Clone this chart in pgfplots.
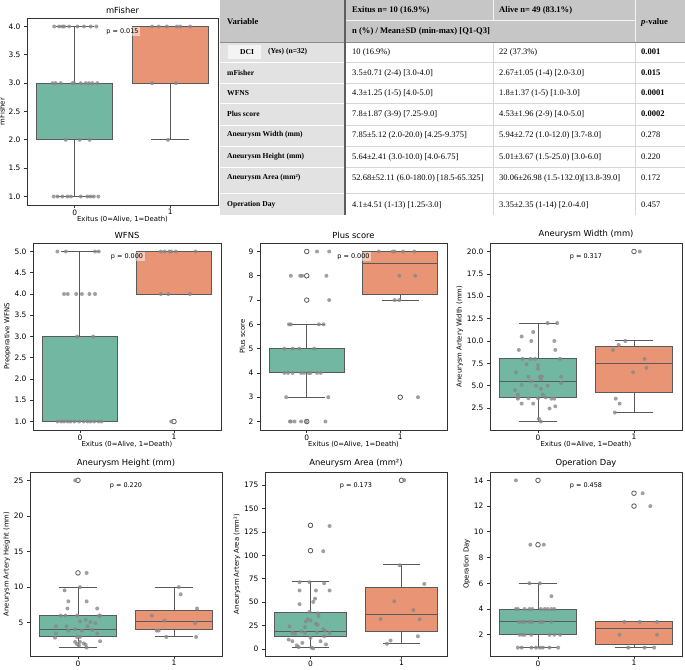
\documentclass[border=0pt]{standalone}
\usepackage{pgfplots}
\pgfplotsset{compat=1.18}
\usepgfplotslibrary{statistics}
\usepackage{fontspec}
\setmainfont{DejaVu Sans}
\newfontfamily\tabfont{Liberation Serif}
\definecolor{cgreen}{HTML}{71B7A1}
\definecolor{corange}{HTML}{E99575}
\definecolor{boxline}{HTML}{5A5A5A}
\definecolor{ptgray}{HTML}{888888}
\definecolor{hdr}{HTML}{C6C6C6}
\definecolor{colone}{HTML}{E2E2E2}
\definecolor{rowline}{HTML}{D6D6D6}
\definecolor{sepline}{HTML}{5E5E5E}
\pgfplotsset{
 bp/.style={scale only axis, anchor=north west, xmin=-0.5, xmax=1.5, xtick={0,1},
  tick pos=left, tick align=outside, major tick length=3bp,
  tick style={black!80, line width=0.7bp}, axis line style={black!80, line width=0.8bp},
  ticklabel style={font=\fontsize{7.5}{8}\selectfont},
  xticklabel style={yshift=2bp},
  label style={font=\fontsize{6.9}{8}\selectfont},
  xlabel style={yshift=6bp}, ylabel shift=-3bp,
  title style={font=\fontsize{8.4}{9}\selectfont, yshift=-5bp},
  /pgf/number format/assume math mode=true,
  boxplot/draw direction=y,
  boxplot/box extend=0.8, boxplot/whisker extend=0.4, clip=false},
 dec1/.style={yticklabel style={/pgf/number format/.cd, fixed, fixed zerofill, precision=1}},
 g0/.style={draw=boxline, fill=cgreen, line width=1bp},
 g1/.style={draw=boxline, fill=corange, line width=1bp},
 outl/.style={only marks, mark=o, mark size=2.3bp, mark options={draw=boxline, fill=none, line width=0.8bp}},
 strip/.style={only marks, mark=*, mark size=2bp, color=ptgray, mark options={draw=ptgray, fill=ptgray, draw opacity=0, fill opacity=0.8}},
}
\tikzset{pnote/.style={font=\fontsize{6.5}{7}\selectfont, fill=white, fill opacity=0.5, text opacity=1, inner sep=1.5bp, yshift=-5bp}}
\begin{document}
\begin{tikzpicture}
\path[use as bounding box] (0,0) rectangle (685bp,-670bp);
% ---------------- table ----------------
\begin{scope}[x=1bp,y=-1bp]
\fill[hdr] (220,0) rectangle (685,42);
\fill[colone] (220,42) rectangle (345,215);
\fill[white!60!colone] (228,45) rectangle (261,59);
\foreach \yy in {62,83,103,125,146,167,193}{
  \draw[white, line width=1bp] (220,\yy) -- (345,\yy);
  \draw[rowline, line width=0.7bp] (345,\yy) -- (685,\yy);
}
\draw[rowline, line width=0.7bp] (493,42) -- (493,215);
\draw[rowline, line width=0.7bp] (635,42) -- (635,215);
\draw[white!80!hdr, line width=0.8bp] (345,20.5) -- (635,20.5);
\draw[white!80!hdr, line width=0.8bp] (493,0) -- (493,20.5);
\draw[white!80!hdr, line width=0.8bp] (635,0) -- (635,42);
\draw[black!45, line width=0.8bp] (220,42) -- (685,42);
\draw[sepline, line width=1.4bp] (345,0) -- (345,215);
\begin{scope}[every node/.style={anchor=west, inner sep=0pt, font=\tabfont\fontsize{8.5}{10}\selectfont}]
\begin{scope}[every node/.append style={font=\tabfont\bfseries\fontsize{8.6}{10}\selectfont}]
\node at (227,22) {Variable};
\node at (352,10) {Exitus n= 10 (16.9\%)};
\node at (499,10) {Alive n= 49 (83.1\%)};
\node at (352,31) {n (\%) / Mean±SD (min-max) [Q1-Q3]};
\node at (641,22) {\textit{p}-value};
\node at (641,52) {0.001};
\node at (641,73) {0.015};
\node at (641,93) {0.0001};
\node at (641,114) {0.0002};
\end{scope}
\begin{scope}[every node/.append style={font=\tabfont\bfseries\fontsize{7.6}{9}\selectfont}]
\node at (240,52) {DCI};
\node at (268,52) {(Yes) (n=32)};
\node at (227,73) {mFisher};
\node at (227,93) {WFNS};
\node at (227,114) {Plus score};
\node at (227,135) {Aneurysm Width (mm)};
\node at (227,157) {Aneurysm Height (mm)};
\node at (227,178) {Aneurysm Area (mm²)};
\node at (227,205) {Operation Day};
\end{scope}
\node at (352,52) {10 (16.9\%)};
\node at (499,52) {22 (37.3\%)};
\node at (352,73) {3.5±0.71 (2-4) [3.0-4.0]};
\node at (499,73) {2.67±1.05 (1-4) [2.0-3.0]};
\node at (352,93) {4.3±1.25 (1-5) [4.0-5.0]};
\node at (499,93) {1.8±1.37 (1-5) [1.0-3.0]};
\node at (352,114) {7.8±1.87 (3-9) [7.25-9.0]};
\node at (499,114) {4.53±1.96 (2-9) [4.0-5.0]};
\node at (352,135) {7.85±5.12 (2.0-20.0) [4.25-9.375]};
\node at (499,135) {5.94±2.72 (1.0-12.0) [3.7-8.0]};
\node at (641,135) {0.278};
\node at (352,157) {5.64±2.41 (3.0-10.0) [4.0-6.75]};
\node at (499,157) {5.01±3.67 (1.5-25.0) [3.0-6.0]};
\node at (641,157) {0.220};
\node at (352,178) {52.68±52.11 (6.0-180.0) [18.5-65.325]};
\node at (499,178) {30.06±26.98 (1.5-132.0)[13.8-39.0]};
\node at (641,178) {0.172};
\node at (352,205) {4.1±4.51 (1-13) [1.25-3.0]};
\node at (499,205) {3.35±2.35 (1-14) [2.0-4.0]};
\node at (641,205) {0.457};
\end{scope}
\end{scope}
% ---------------- mFisher ----------------
\begin{axis}[bp, dec1, at={(27bp,-18bp)}, width=191bp, height=187bp,
  ymin=0.85, ymax=4.15, ytick={1,1.5,...,4}, title={mFisher}, ylabel={mFisher},
  xlabel={Exitus (0=Alive, 1=Death)}]
\addplot[g0, boxplot prepared={lower whisker=1, lower quartile=2, median=3, upper quartile=3, upper whisker=4, draw position=0}] coordinates {};
\addplot[g1, boxplot prepared={lower whisker=2, lower quartile=3, median=4, upper quartile=4, upper whisker=4, draw position=1}] coordinates {};
\addplot[strip] coordinates {
(-0.215,4)(-0.163,4)(-0.128,4)(-0.111,4)(-0.059,4)(0.028,4)(0.097,4)(0.167,4)(0.226,4)
(-0.23,3)(-0.2,3)(-0.146,3)(-0.024,3)(-0.007,3)(0.063,3)(0.115,3)(0.149,3)(0.184,3)(0.236,3)
(-0.094,2)(0.052,2)(0.156,2)
(-0.22,1)(-0.18,1)(-0.13,1)(-0.076,1)(-0.04,1)(0.063,1)(0.132,1)(0.167,1)(0.2,1)(0.247,1)
(0.81,4)(0.88,4)(0.965,4)(1.07,4)(1.104,4)(1.208,4)(0.81,3)(1.06,3)(0.976,2)};
\node[pnote] at (axis cs:0.5,4) {p = 0.015};
\end{axis}
% ---------------- WFNS ----------------
\begin{axis}[bp, dec1, at={(33bp,-243bp)}, width=188bp, height=187bp,
  ymin=0.8, ymax=5.2, ytick={1,1.5,...,5}, title={WFNS}, ylabel={Preoperative WFNS},
  xlabel={Exitus (0=Alive, 1=Death)}]
\addplot[g0, boxplot prepared={lower whisker=1, lower quartile=1, median=1, upper quartile=3, upper whisker=5, draw position=0}] coordinates {};
\addplot[g1, boxplot prepared={lower whisker=4, lower quartile=4, median=5, upper quartile=5, upper whisker=5, draw position=1}] coordinates {};
\addplot[outl] coordinates {(1,1)};
\addplot[strip] coordinates {
(-0.24,5)(-0.15,5)(0.16,5)(0.2,5)(-0.17,4)(-0.13,4)(-0.04,4)(0.02,4)(0.1,4)(0.16,4)(-0.03,3)(0.14,3)
(-0.24,1)(-0.2,1)(-0.17,1)(-0.13,1)(-0.1,1)(-0.06,1)(-0.01,1)(0.04,1)(0.08,1)(0.11,1)(0.15,1)(0.2,1)(0.23,1)
(0.86,5)(0.9,5)(0.95,5)(0.97,5)(1.02,5)(1.23,5)(0.86,4)(0.94,4)(1.17,4)(0.97,1)};
\node[pnote] at (axis cs:0.5,5) {p = 0.000};
\end{axis}
% ---------------- Plus score ----------------
\begin{axis}[bp, at={(260bp,-243bp)}, width=187bp, height=187bp,
  ymin=1.65, ymax=9.35, ytick={2,3,...,9}, title={Plus score}, ylabel={Plus score},
  xlabel={Exitus (0=Alive, 1=Death)}]
\addplot[g0, boxplot prepared={lower whisker=3, lower quartile=4, median=4, upper quartile=5, upper whisker=6, draw position=0}] coordinates {};
\addplot[g1, boxplot prepared={lower whisker=7, lower quartile=7.25, median=8.5, upper quartile=9, upper whisker=9, draw position=1}] coordinates {};
\addplot[outl] coordinates {(0,9)(0,8)(0,7)(0,2)(1,3)};
\addplot[strip] coordinates {
(0.11,9)(0.24,9)(-0.17,8)(-0.07,8)(-0.05,8)(0.21,8)(0.24,7)(-0.19,6)(-0.17,6)(0.13,6)(0.18,6)
(-0.24,5)(-0.15,5)(-0.08,5)(0.08,5)(-0.24,4)(-0.2,4)(-0.15,4)(-0.06,4)(-0.03,4)(0.02,4)(0.04,4)(0.11,4)(0.15,4)
(-0.22,3)(0.23,3)(-0.18,2)(-0.17,2)(-0.13,2)(-0.06,2)(-0.01,2)(0.2,2)
(0.77,9)(0.92,9)(0.94,9)(1.03,9)(1.15,9)(0.99,8)(1.16,8)(0.94,7)(0.99,7)(1.19,3)};
\node[pnote] at (axis cs:0.5,9) {p = 0.000};
\end{axis}
% ---------------- Aneurysm Width ----------------
\begin{axis}[bp, dec1, at={(490bp,-243bp)}, width=192bp, height=187bp,
  ymin=0.05, ymax=20.95, ytick={2.5,5,...,20}, title={Aneurysm Width (mm)}, ylabel={Aneurysm Artery Width (mm)},
  xlabel={Exitus (0=Alive, 1=Death)}]
\addplot[g0, boxplot prepared={lower whisker=1, lower quartile=3.7, median=5.5, upper quartile=8, upper whisker=12, draw position=0}] coordinates {};
\addplot[g1, boxplot prepared={lower whisker=2, lower quartile=4.25, median=7.5, upper quartile=9.375, upper whisker=10, draw position=1}] coordinates {};
\addplot[outl] coordinates {(1,20)};
\addplot[strip] coordinates {
(-0.17,10.5)(-0.05,11)(0.1,12)(0.2,12)(0.17,10)(-0.07,10)(-0.2,9)(0.18,9)
(-0.16,8)(-0.08,8)(-0.03,8)(0.23,8)(-0.12,7.4)(0,7.3)(0,6.9)(-0.23,6.5)
(-0.1,6)(0.02,6)(0.04,6.05)(0.24,6)(-0.07,5.5)(0.03,5.7)(0.1,5)(-0.02,5)(-0.17,5.1)
(-0.24,4.5)(0.03,4.65)(0.24,5.3)(-0.21,4)(0.05,4)(-0.21,3.7)(-0.21,3.55)
(-0.1,3.6)(0,3.6)(0.08,3.7)(0.14,3.55)(0.17,3.55)(-0.17,3)(-0.05,3)(0.12,2.45)(0.18,2.7)(0.01,1.3)(0.03,1)
(1.06,20)(0.91,10)(0.84,9.55)(0.78,9)(1.11,8)(1.13,7)(0.99,6.5)(0.81,3.55)(0.85,3)(0.8,2)};
\node[pnote] at (axis cs:0.5,20) {p = 0.317};
\end{axis}
% ---------------- Aneurysm Height ----------------
\begin{axis}[bp, at={(30bp,-472bp)}, width=192bp, height=184bp,
  ymin=0.325, ymax=26.175, ytick={5,10,...,25}, title={Aneurysm Height (mm)}, ylabel={Aneurysm Artery Height (mm)}]
\addplot[g0, boxplot prepared={lower whisker=1.5, lower quartile=3, median=4.1, upper quartile=6, upper whisker=10, draw position=0}] coordinates {};
\addplot[g1, boxplot prepared={lower whisker=3, lower quartile=4, median=5.2, upper quartile=6.75, upper whisker=10, draw position=1}] coordinates {};
\addplot[outl] coordinates {(0,25)(0,12)};
\addplot[strip] coordinates {
(-0.03,25)(0.09,12)(0.02,10)(-0.14,9.55)(-0.1,8)(0.09,8)(-0.11,7)(0.2,7)
(-0.18,6)(-0.13,6)(-0.01,6)(0.22,6)(0.23,6)(-0.12,4.5)(-0.23,4.5)(0.08,5.4)(0.13,5.1)(0.18,4.95)(0.02,5.2)
(-0.1,3.9)(-0.03,4.1)(0.04,3.9)(0.1,4.5)(0.15,4)(-0.23,3.5)(0.2,3.5)(-0.24,2.9)(-0.01,3)(0.02,3)
(-0.03,2.3)(0.02,2.3)(0.23,2.4)(-0.01,2)(0.06,2.1)(0.08,1.9)(0.01,1.8)(0.09,1.5)
(1.05,10)(1.07,9)(1.24,7)(0.77,6)(0.9,5.3)(1.22,4.95)(0.82,3.9)(0.84,3.9)(0.92,3)(1.23,3)};
\node[pnote] at (axis cs:0.5,25) {p = 0.220};
\end{axis}
% ---------------- Aneurysm Area ----------------
\begin{axis}[bp, at={(265bp,-472bp)}, width=182bp, height=184bp,
  ymin=-7.425, ymax=188.925, ytick={0,25,...,175}, title={Aneurysm Area (mm²)}, ylabel={Aneurysm Artery Area (mm²)}]
\addplot[g0, boxplot prepared={lower whisker=1.5, lower quartile=13.8, median=19, upper quartile=39, upper whisker=72, draw position=0}] coordinates {};
\addplot[g1, boxplot prepared={lower whisker=6, lower quartile=18.5, median=37, upper quartile=65.3, upper whisker=90, draw position=1}] coordinates {};
\addplot[outl] coordinates {(0,132)(0,105)(1,180)};
\addplot[strip] coordinates {
(0.21,131.3)(0.14,104.4)(-0.12,71.3)(-0.01,71.3)(0.15,70.2)(-0.12,62.5)(0.06,62.5)(0.21,62.5)
(0.05,53.8)(0.03,50.3)(-0.12,47.9)(-0.01,39.8)(0.08,38.1)(0.09,35.3)(-0.03,31.8)(0,30.4)(-0.05,29.4)
(0.06,26.9)(0.08,25.9)(-0.23,24.1)(-0.06,23.4)(0.14,21.3)(0.16,19.6)(-0.1,18.9)(0.07,17.8)(0.21,17.1)
(-0.2,17.1)(-0.17,16.4)(-0.06,17.1)(0.15,13.6)(0,11.9)(-0.24,10.1)(-0.2,8.4)(-0.09,6.6)(0.11,8.4)(0.17,4.9)
(-0.15,3.9)(-0.13,2.1)(0.01,1.5)(0.03,0.7)
(1.03,180.2)(0.98,89.4)(1.25,69.5)(0.92,51)(1.13,41.6)(0.77,32.1)(1.2,31.8)(1.18,13.6)(0.88,9.1)(0.84,5.6)};
\node[pnote] at (axis cs:0.5,180) {p = 0.173};
\end{axis}
% ---------------- Operation Day ----------------
\begin{axis}[bp, at={(490bp,-472bp)}, width=192bp, height=184bp,
  ymin=0.35, ymax=14.65, ytick={2,4,...,14}, title={Operation Day}, ylabel={Operation Day}]
\addplot[g0, boxplot prepared={lower whisker=1, lower quartile=2, median=3, upper quartile=4, upper whisker=6, draw position=0}] coordinates {};
\addplot[g1, boxplot prepared={lower whisker=1, lower quartile=1.25, median=2.5, upper quartile=3, upper whisker=3, draw position=1}] coordinates {};
\addplot[outl] coordinates {(0,14)(0,9)(1,13)(1,12)};
\addplot[strip] coordinates {
(-0.23,14)(-0.08,9)(0.06,9)(-0.09,6)(0.02,6)(0.14,5)
(-0.23,4)(-0.21,4)(-0.14,4)(-0.09,4)(-0.06,4)(0.03,4)(0.07,4)(0.1,4)(0.14,4)(0.17,4)
(-0.2,3)(-0.17,3)(-0.14,3)(-0.09,3)(-0.06,3)(0.02,3)(0.05,3)(0.14,3)
(-0.19,2)(-0.16,2)(-0.14,2)(-0.07,2)(0.12,2)(0.17,2)(0.23,2)
(-0.21,1)(-0.17,1)(-0.07,1)(-0.02,1)(0.02,1)(0.05,1)(0.12,1)(0.21,1)
(1.09,13)(1.17,12)(0.9,3)(1.06,3)(1.24,3)(0.85,2)(1.24,2)(0.94,1)(1.11,1)(1.21,1)};
\node[pnote] at (axis cs:0.5,14) {p = 0.458};
\end{axis}
\end{tikzpicture}
\end{document}
